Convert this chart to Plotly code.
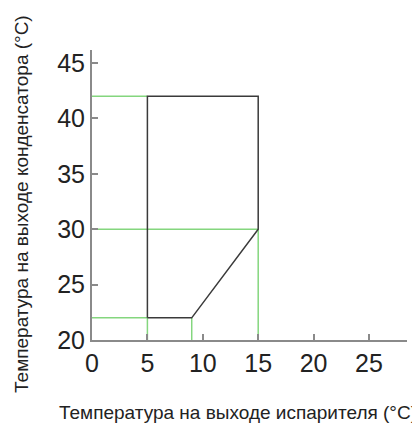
import plotly.graph_objects as go

# Operating envelope (evaporator outlet temp vs condenser outlet temp)
envelope_x = [5, 5, 15, 15, 9, 5]
envelope_y = [22, 42, 42, 30, 22, 22]

# Green guide lines (segments separated by None)
guide_x = [0, 5, None, 0, 15, None, 0, 5, None, 5, 5, None, 9, 9, None, 15, 15]
guide_y = [42, 42, None, 30, 30, None, 22, 22, None, 20, 22, None, 20, 22, None, 20, 30]

x_ticks = [0, 5, 10, 15, 20, 25]
y_ticks = [20, 25, 30, 35, 40, 45]

x_title = "Температура на выходе испарителя (°C)"
y_title = "Температура на выходе конденсатора (°C)"

FONT = "Liberation Sans, Arial, sans-serif"

# page body has an 8px margin; plot area in page pixels: x 92..406.7, y 50..340
PX0, PX1, PY0, PY1 = 92, 406.7, 50, 340
W, H = 412, 415
OFF = 8

fig = go.Figure()
fig.add_trace(go.Scatter(x=guide_x, y=guide_y, mode="lines",
                         line=dict(color="#84d67e", width=1.5),
                         hoverinfo="skip", showlegend=False))
fig.add_trace(go.Scatter(x=envelope_x, y=envelope_y, mode="lines",
                         line=dict(color="#3a3a3a", width=1.5),
                         showlegend=False))

axis_common = dict(showgrid=False, zeroline=False, showline=True,
                   linecolor="#8a8a8a", linewidth=2,
                   ticks="inside", ticklen=6, tickwidth=2, tickcolor="#8a8a8a",
                   tickfont=dict(family=FONT, size=25, color="#222222"))

fig.update_xaxes(range=[0, 28.43], tickvals=x_ticks, **axis_common)
fig.update_yaxes(range=[20, 46.17], tickvals=y_ticks, **axis_common)

pw, ph = PX1 - PX0, PY1 - PY0
fig.update_layout(
    width=W, height=H,
    margin=dict(l=PX0 - OFF, r=W - (PX1 - OFF), t=PY0 - OFF, b=H - (PY1 - OFF)),
    paper_bgcolor="white", plot_bgcolor="white",
    font=dict(family=FONT, color="#222222"),
    annotations=[
        dict(text=x_title, xref="paper", yref="paper",
             x=(238 - PX0) / pw, y=-(412 - PY1) / ph,
             xanchor="center", yanchor="middle", showarrow=False,
             font=dict(family=FONT, size=19, color="#222222")),
        dict(text=y_title, xref="paper", yref="paper",
             x=-(PX0 - 21) / pw, y=(PY1 - 204) / ph,
             xanchor="center", yanchor="middle", showarrow=False, textangle=-90,
             font=dict(family=FONT, size=19, color="#222222")),
    ],
)

fig.write_html("out.html")
